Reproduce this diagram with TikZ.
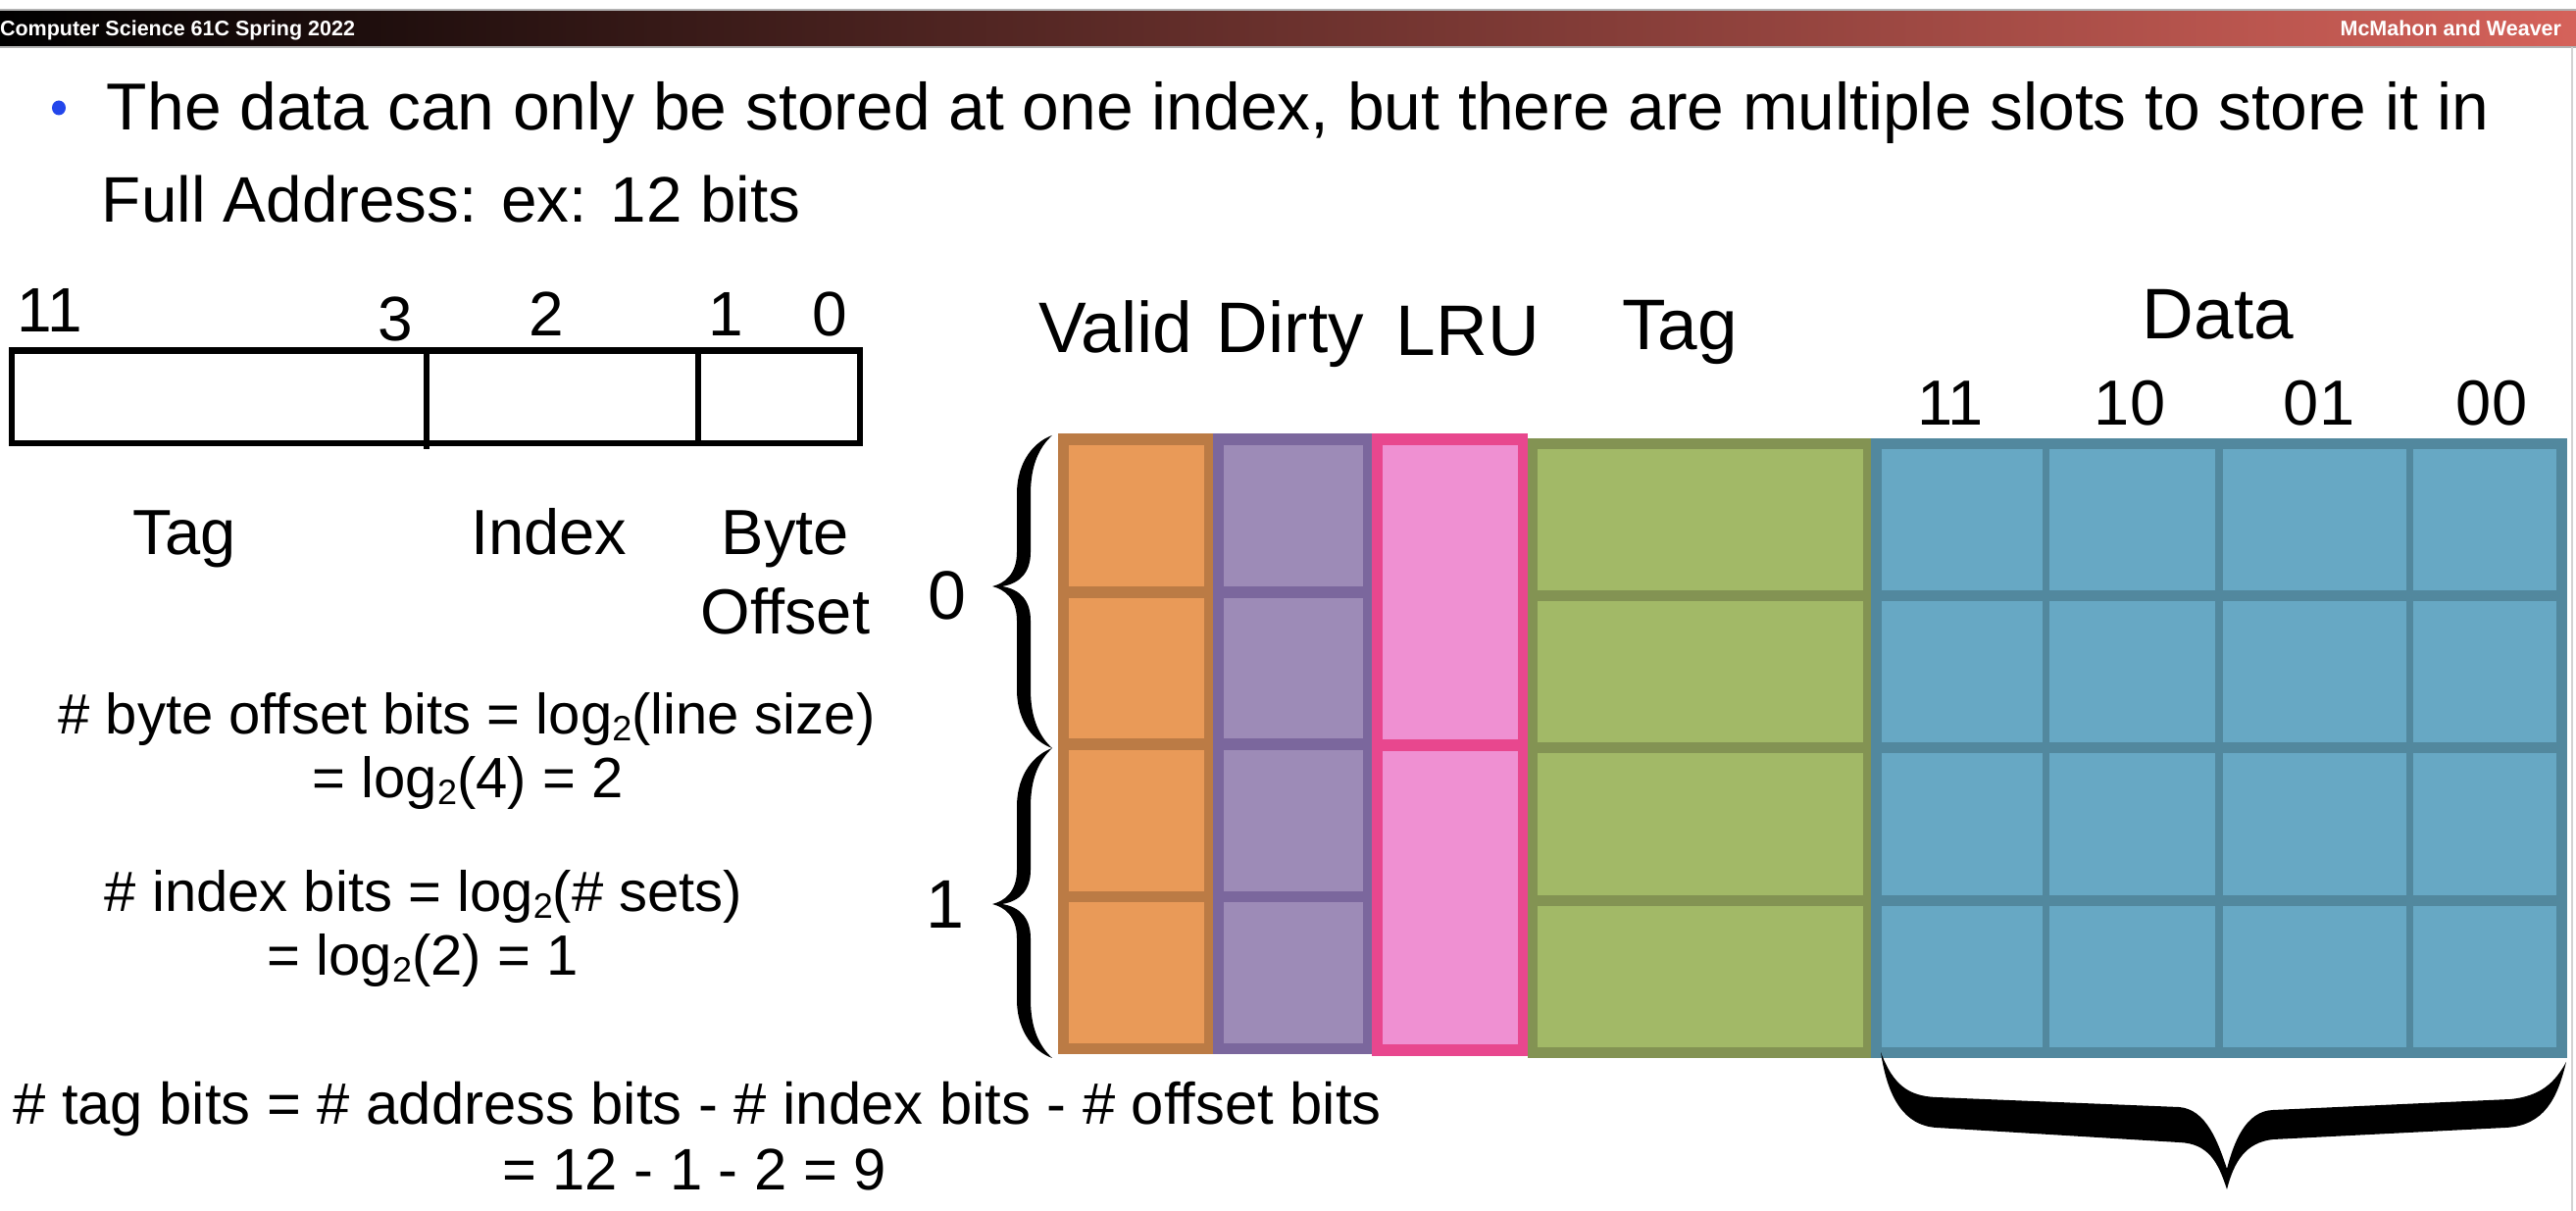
\documentclass[tikz,border=0pt]{standalone}
\usepackage{fontspec}
\setmainfont{Liberation Sans}
\definecolor{orF}{RGB}{233,154,88}
\definecolor{orB}{RGB}{187,123,69}
\definecolor{puF}{RGB}{157,139,183}
\definecolor{puB}{RGB}{123,103,157}
\definecolor{piF}{RGB}{239,144,210}
\definecolor{piB}{RGB}{232,71,142}
\definecolor{grF}{RGB}{162,185,103}
\definecolor{grB}{RGB}{131,147,83}
\definecolor{blF}{RGB}{103,168,196}
\definecolor{blB}{RGB}{82,136,158}
\definecolor{hdR}{RGB}{213,98,90}
\definecolor{bul}{RGB}{35,70,235}
\newcommand{\fsz}[1]{\fontsize{#1}{#1}\selectfont}
\newcommand{\ltwo}{\raisebox{-0.12em}{\fontsize{0.62em}{0.62em}\selectfont 2}}
\newcommand{\leftbrace}[4]{% #1 xtip, #2 ytop, #3 ytip, #4 ybot
  \fill[black] (#1+61,#2) .. controls (#1+44,#2+6) and (#1+25,#2+25) .. (#1+25,#2+60)
   -- (#1+25,#3-35) .. controls (#1+25,#3-12) and (#1+12,#3-3) .. (#1,#3)
   .. controls (#1+12,#3+3) and (#1+25,#3+12) .. (#1+25,#3+35)
   -- (#1+25,#4-60) .. controls (#1+25,#4-25) and (#1+44,#4-6) .. (#1+61,#4)
   .. controls (#1+48,#4-12) and (#1+39,#4-30) .. (#1+39,#4-60)
   -- (#1+39,#3+35) .. controls (#1+39,#3+14) and (#1+28,#3+3) .. (#1+10,#3)
   .. controls (#1+28,#3-3) and (#1+39,#3-14) .. (#1+39,#3-35)
   -- (#1+39,#2+60) .. controls (#1+39,#2+30) and (#1+48,#2+12) .. (#1+61,#2) -- cycle;}
\tikzset{
  txt/.style={inner sep=0pt, outer sep=0pt, anchor=base},
  txtw/.style={txt, anchor=base west},
  bullettxt/.style={txtw, font=\fsz{13.55pt}},
  addrnum/.style={txt, font=\fsz{12.8pt}},
  fieldlbl/.style={txt, font=\fsz{13pt}},
  formula/.style={txt, font=\fsz{11.6pt}},
  formulab/.style={txt, font=\fsz{11.95pt}},
  collbl/.style={txt, font=\fsz{14.6pt}},
  datalbl/.style={txt, font=\fsz{13pt}},
  setlbl/.style={txt, font=\fsz{14pt}},
  hdrtxt/.style={inner sep=0pt, outer sep=0pt, text=white, font=\fsz{4.3pt}\bfseries},
}
\begin{document}
\begin{tikzpicture}[x=0.2pt,y=-0.2pt]
\fill[white] (0,0) rectangle (2627,1235);
\useasboundingbox (0,0) rectangle (2627,1235);
% header bar
\shade[left color=black, right color=hdR] (0,10) rectangle (2627,48);
\draw[gray!60, line width=0.3pt] (0,10) -- (2627,10);
\draw[gray!60, line width=0.3pt] (0,48) -- (2627,48);
\node[hdrtxt, anchor=base west] (hl) at (0,37) {Computer Science 61C Spring 2022};
\node[hdrtxt, anchor=base east] (hr) at (2612,37) {McMahon and Weaver};
\draw[gray!35, line width=0.4pt] (2623,48) -- (2623,1235);
% bullet
\fill[bul] (60,110) ellipse (7 and 7.5);
\node[bullettxt] (b1) at (109,133) {The data can only be stored at one index, but there are multiple slots to store it in};
\node[txtw, font=\fsz{13.12pt}] (b2) at (104,227) {Full Address: ex: 12 bits};
% address box
\draw[line width=1.25pt] (12,357.5) rectangle (877,452);
\draw[line width=1.1pt] (435,357) -- (435,458);
\draw[line width=1.1pt] (712,357) -- (712,452);
\node[addrnum] (n11) at (51,339) {11};
\node[addrnum] (n3) at (403,348) {3};
\node[addrnum] (n2) at (557,343) {2};
\node[addrnum] (n1) at (740,343) {1};
\node[addrnum] (n0) at (846,343) {0};
\node[fieldlbl] (ftag) at (188,566) {Tag};
\node[fieldlbl] (fidx) at (560,566) {Index};
\node[fieldlbl] (fbyte) at (801,566) {Byte};
\node[fieldlbl] (foff) at (801,647) {Offset};
% formulas
\node[formula] (fa1) at (476,749) {\# byte offset bits = log\ltwo(line size)};
\node[formula] (fa2) at (477,814) {= log\ltwo(4) = 2};
\node[formula] (fb1) at (432,930) {\# index bits = log\ltwo(\# sets)};
\node[formula] (fb2) at (431,995) {= log\ltwo(2) = 1};
\node[formulab] (fc1) at (711,1147) {\# tag bits = \# address bits - \# index bits - \# offset bits};
\node[formulab] (fc2) at (708,1214) {= 12 - 1 - 2 = 9};
% column labels
\node[collbl] (lv) at (1138,360) {Valid};
\node[collbl] (ld) at (1316,360) {Dirty};
\node[collbl] (ll) at (1497,363) {LRU};
\node[collbl] (lt) at (1713,357) {Tag};
\node[collbl] (ldata) at (2262,346) {Data};
\node[datalbl] (d11) at (1989,434) {11};
\node[datalbl] (d10) at (2172,434) {10};
\node[datalbl] (d01) at (2365,434) {01};
\node[datalbl] (d00) at (2541,434) {00};
% orange valid
\fill[orB] (1079,442) rectangle (1237,1075);
\foreach \a/\b in {454/598,610/753,765/909,920/1064}
  \fill[orF] (1090,\a) rectangle (1228,\b);
% purple dirty
\fill[puB] (1237,442) rectangle (1399,1075);
\foreach \a/\b in {454/598,610/753,765/909,920/1064}
  \fill[puF] (1248,\a) rectangle (1390,\b);
% pink lru
\fill[piB] (1399,442) rectangle (1558,1077);
\fill[piF] (1410,454) rectangle (1548,754);
\fill[piF] (1410,766) rectangle (1548,1065);
% green tag
\fill[grB] (1558,447) rectangle (1908,1079);
\foreach \a/\b in {458/602,613/757,768/913,924/1068}
  \fill[grF] (1568,\a) rectangle (1900,\b);
% blue data
\fill[blB] (1908,447) rectangle (2618,1079);
\foreach \a/\b in {458/602,613/757,768/913,924/1068}
  \foreach \c/\d in {1919/2083,2090/2259,2267/2454,2461/2607}
    \fill[blF] (\c,\a) rectangle (\d,\b);
% set braces and labels
\leftbrace{1012}{444}{598}{763}
\leftbrace{1012}{763}{922}{1079}
\node[setlbl] (s0) at (966,632) {0};
\node[setlbl] (s1) at (964,947) {1};
% data brace
\fill[black] (1918,1073) .. controls (1930,1105) and (1945,1118) .. (1975,1119)
 -- (2222,1129) .. controls (2250,1131) and (2262,1165) .. (2271,1192)
 .. controls (2278,1165) and (2290,1133) .. (2318,1132)
 -- (2560,1121) .. controls (2590,1118) and (2605,1105) .. (2617,1083)
 .. controls (2608,1120) and (2595,1148) .. (2555,1150)
 -- (2318,1162) .. controls (2290,1165) and (2278,1185) .. (2271,1213)
 .. controls (2262,1185) and (2252,1166) .. (2222,1165)
 -- (1975,1150) .. controls (1942,1148) and (1925,1120) .. (1918,1073) -- cycle;
\end{tikzpicture}
\end{document}
